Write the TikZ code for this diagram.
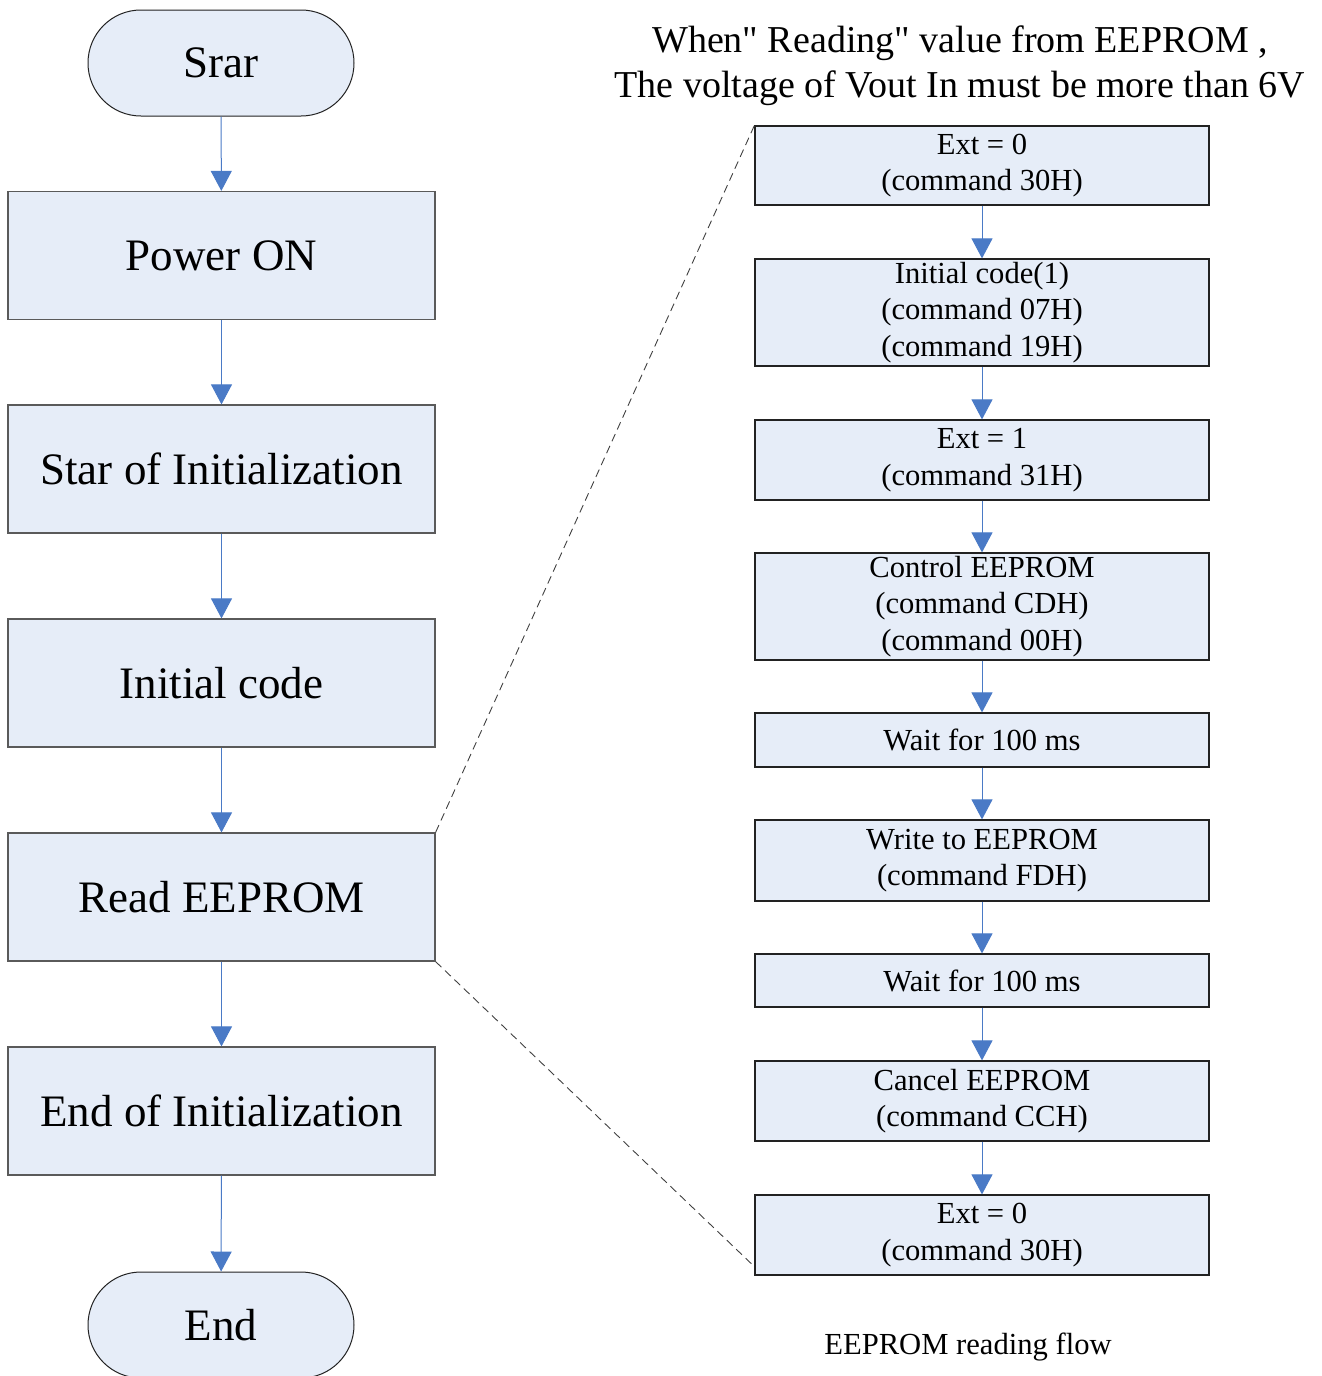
\documentclass[tikz,border=0pt]{standalone}
\usepackage{fontspec}
\setmainfont{Liberation Serif}[Ligatures=TeXOff]
\usetikzlibrary{arrows.meta}
\definecolor{boxfill}{HTML}{E6EDF8}
\definecolor{flowblue}{HTML}{4A7AC6}
\definecolor{leftedge}{HTML}{5A5A5A}
\definecolor{rightedge}{HTML}{222222}
\tikzset{
  bigbox/.style={draw=leftedge, fill=boxfill, line width=1.2pt, inner sep=0pt,
    minimum width=427pt, minimum height=128pt, align=center,
    font=\fontsize{45}{54}\selectfont},
  terminal/.style={draw=rightedge, fill=boxfill, line width=1pt, inner sep=0pt,
    minimum width=266pt, minimum height=106pt, rounded corners=52.9pt,
    font=\fontsize{45}{54}\selectfont},
  cmdbox/.style={draw=rightedge, fill=boxfill, line width=1.2pt, inner sep=0pt,
    minimum width=454pt, align=center, font=\fontsize{30.6}{36.5}\selectfont},
  flow/.style={draw=flowblue, line width=1pt,
    -{Triangle[length=20pt,width=21pt,fill=flowblue]}},
  zoomline/.style={draw=black!75, line width=0.9pt, dash pattern=on 8pt off 5pt}
}
\begin{document}
\begin{tikzpicture}[x=1pt,y=-1pt]
\useasboundingbox (0,0) rectangle (1322,1376);
\begin{scope}
\clip (0,0) rectangle (1322,1376);

% main flow
\node[terminal] (start) at (221,63) {Srar};
\node[bigbox] (power) at (221.5,255.5) {Power ON};
\node[bigbox] (initstart) at (221.5,469) {Star of Initialization};
\node[bigbox] (initcode) at (221.5,683) {Initial code};
\node[bigbox] (read) at (221.5,897) {Read EEPROM};
\node[bigbox] (initend) at (221.5,1111) {End of Initialization};
\node[terminal] (stop) at (221,1325) {End};

\draw[flow] (start) -- (power);
\draw[flow] (power) -- (initstart);
\draw[flow] (initstart) -- (initcode);
\draw[flow] (initcode) -- (read);
\draw[flow] (read) -- (initend);
\draw[flow] (initend) -- (stop);

% EEPROM reading sequence
\node[font=\fontsize{38}{45}\selectfont, align=center] (title) at (960,66)
  {When" Reading" value from EEPROM ,\\The voltage of Vout In must be more than 6V};

\node[cmdbox, minimum height=79pt] (c1) at (982,165.5) {Ext = 0\\(command 30H)};
\node[cmdbox, minimum height=107pt] (c2) at (982,312.5) {Initial code(1)\\(command 07H)\\(command 19H)};
\node[cmdbox, minimum height=80pt] (c3) at (982,460) {Ext = 1\\(command 31H)};
\node[cmdbox, minimum height=107pt] (c4) at (982,606.5) {Control EEPROM\\(command CDH)\\(command 00H)};
\node[cmdbox, minimum height=54pt] (c5) at (982,740) {Wait for 100 ms};
\node[cmdbox, minimum height=81pt] (c6) at (982,860.5) {Write to EEPROM\\(command FDH)};
\node[cmdbox, minimum height=53pt] (c7) at (982,980.5) {Wait for 100 ms};
\node[cmdbox, minimum height=80pt] (c8) at (982,1101) {Cancel EEPROM\\(command CCH)};
\node[cmdbox, minimum height=80pt] (c9) at (982,1235) {Ext = 0\\(command 30H)};

\foreach \a/\b in {c1/c2,c2/c3,c3/c4,c4/c5,c5/c6,c6/c7,c7/c8,c8/c9}
  \draw[flow] (\a) -- (\b);

\node[font=\fontsize{30.6}{36}\selectfont] (caption) at (968,1347) {EEPROM reading flow};

% detail lines from Read EEPROM to the sequence
\coordinate (lowend) at ([yshift=9pt]c9.south west);
\draw[zoomline] (read.north east) -- (c1.north west);
\draw[zoomline] (read.south east) -- (lowend);
\end{scope}
\end{tikzpicture}
\end{document}
